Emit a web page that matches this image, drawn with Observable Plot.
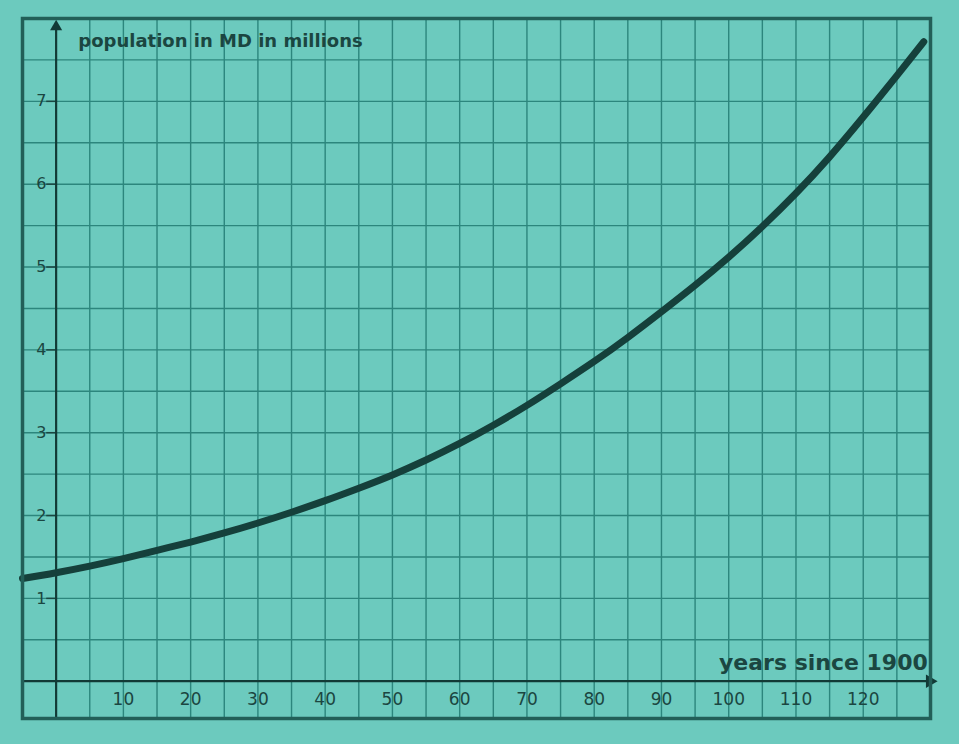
<!DOCTYPE html>
<html>
<head>
<meta charset="utf-8">
<script src="https://cdn.jsdelivr.net/npm/d3@7"></script>
<script src="https://cdn.jsdelivr.net/npm/@observablehq/plot@0.6"></script>
<style>
  html, body { margin: 0; padding: 0; background: #6ccabe; }
  #chart svg { display: block; }
</style>
</head>
<body>
<div id="chart"></div>
<script>
// Years since 1900 and population of Maryland (millions)
const years = [-5, 0, 5, 10, 15, 20, 25, 30, 35, 40, 45, 50, 55, 60, 65, 70, 75, 80, 85, 90, 95, 100, 105, 110, 115, 120, 125, 129];
const population = [1.24, 1.31, 1.39, 1.48, 1.58, 1.68, 1.79, 1.91, 2.04, 2.18, 2.33, 2.49, 2.67, 2.87, 3.09, 3.33, 3.59, 3.86, 4.15, 4.46, 4.78, 5.12, 5.49, 5.89, 6.33, 6.81, 7.31, 7.72];

const xTickLabels = [10, 20, 30, 40, 50, 60, 70, 80, 90, 100, 110, 120];
const yTickLabels = [1, 2, 3, 4, 5, 6, 7];
const xGrid = d3.range(5, 130, 5);
const yGrid = d3.range(0.5, 8, 0.5);

const data = years.map((t, i) => ({t, p: population[i]}));

const ink = "#1b4641";
const gridColor = "#2c867d";

const chart = Plot.plot({
  width: 959,
  height: 744,
  marginLeft: 22,
  marginRight: 29,
  marginTop: 18,
  marginBottom: 26,
  style: {background: "#6ccabe", fontFamily: "DejaVu Sans, Verdana, sans-serif"},
  x: {domain: [-5, 130], axis: null},
  y: {domain: [-0.45, 8.0], axis: null},
  marks: [
    Plot.ruleX(xGrid, {stroke: gridColor, strokeWidth: 1.4}),
    Plot.ruleY(yGrid, {stroke: gridColor, strokeWidth: 1.4}),
    Plot.ruleY(yTickLabels, {x1: -1.4, x2: 0, stroke: ink, strokeWidth: 1.5}),
    Plot.ruleX([0], {y1: -0.45, y2: 7.9, stroke: "#123a36", strokeWidth: 2.2}),
    Plot.ruleY([0], {x1: -5, x2: 130, stroke: "#123a36", strokeWidth: 2.2}),
    Plot.dot([0], {x: 0, y: 7.9, symbol: "triangle", r: 4.5, fill: "#123a36", stroke: "none"}),
    Plot.dot([0], {x: 129.9, y: 0, symbol: "triangle", r: 5, rotate: 90, fill: "#123a36", stroke: "none"}),
    Plot.line(data, {x: "t", y: "p", curve: "natural", stroke: "#15403b", strokeWidth: 7, strokeLinecap: "round"}),
    Plot.text(yTickLabels, {x: -2.2, y: d => d, text: d => String(d), fill: ink, fontSize: 16, textAnchor: "middle"}),
    Plot.text(xTickLabels, {x: d => d, y: -0.22, text: d => String(d), fill: ink, fontSize: 17, textAnchor: "middle"}),
    Plot.text(["population in MD in millions"], {x: 3.3, y: 7.72, text: d => d, fill: ink, fontSize: 18, fontWeight: "bold", textAnchor: "start"}),
    Plot.text(["years since 1900"], {x: 129.6, y: 0.22, text: d => d, fill: ink, fontSize: 22, fontWeight: "bold", textAnchor: "end"}),
    Plot.frame({stroke: "#225f58", strokeWidth: 3.5})
  ]
});

document.getElementById("chart").appendChild(chart);
</script>
</body>
</html>
